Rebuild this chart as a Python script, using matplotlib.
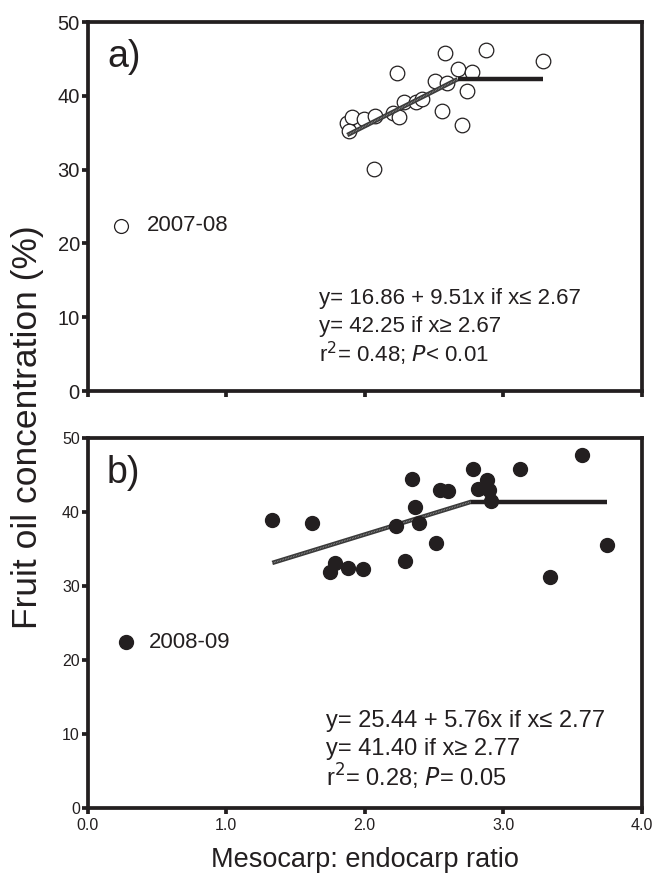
import numpy as np
import matplotlib
matplotlib.use("Agg")
import matplotlib.pyplot as plt

plt.rcParams['font.family'] = ['Liberation Sans', 'DejaVu Sans']

ink = '#231f20'

# 2007-08 season (open circles)
x_a = [1.874, 1.906, 1.889, 1.997, 2.074, 2.067, 2.231, 2.206, 2.247, 2.284, 2.370,
       2.416, 2.507, 2.592, 2.577, 2.560, 2.675, 2.772, 2.736, 2.704, 2.873, 3.289]
y_a = [36.27, 37.17, 35.27, 36.86, 37.26, 30.04, 43.13, 37.71, 37.09, 39.20, 39.16,
       39.53, 42.01, 41.77, 45.76, 37.94, 43.59, 43.27, 40.65, 36.00, 46.17, 44.76]

# 2008-09 season (filled circles)
x_b = [1.333, 1.618, 1.788, 1.748, 1.876, 1.988, 2.227, 2.288, 2.342, 2.364, 2.394, 2.515,
       2.545, 2.597, 2.779, 2.818, 2.885, 2.894, 2.909, 3.121, 3.333, 3.570, 3.748]
y_b = [38.96, 38.47, 33.15, 31.85, 32.43, 32.34, 38.10, 33.38, 44.50, 40.68, 38.50, 35.86,
       43.00, 42.84, 45.77, 43.15, 44.37, 43.00, 41.44, 45.86, 31.17, 47.75, 35.50]

# segmented fits: intercept, slope, breakpoint, plateau
fit_a = (16.86, 9.51, 2.67, 42.25)
fit_b = (25.44, 5.76, 2.77, 41.40)

eq_a = ["y= 16.86 + 9.51x if x\u2264 2.67", "y= 42.25 if x\u2265 2.67",
        "r$^2$= 0.48; $\\it{P}$< 0.01"]
eq_b = ["y= 25.44 + 5.76x if x\u2264 2.77", "y= 41.40 if x\u2265 2.77",
        "r$^2$= 0.28; $\\it{P}$= 0.05"]

yticks = [0, 10, 20, 30, 40, 50]
xticks = [0.0, 1.0, 2.0, 3.0, 4.0]
xticklabels = ['0.0', '1.0', '2.0', '3.0', '4.0']

fig = plt.figure(figsize=(6.57, 8.76), dpi=100)
ax1 = fig.add_axes([87.5 / 657, 1 - 391 / 876, (642 - 87.5) / 657, (391 - 22) / 876])
ax2 = fig.add_axes([87.5 / 657, 1 - 808 / 876, (642 - 87.5) / 657, (808 - 438) / 876])


def style(ax, tick_size):
    ax.set_xlim(0, 4)
    ax.set_ylim(0, 50)
    for s in ax.spines.values():
        s.set_linewidth(2.7)
        s.set_color(ink)
    ax.set_yticks(yticks)
    ax.set_xticks(xticks)
    ax.tick_params(direction='out', length=4, width=2.7, color=ink,
                   labelsize=tick_size, labelcolor=ink, pad=1.5)
    ax.tick_params(axis='x', pad=3.5)


def draw_fit(ax, xs, fit, zorder):
    a, b, brk, plateau = fit
    xs1 = np.array([min(xs), brk])
    ax.plot(xs1, a + b * xs1, color='#3a3a3a', lw=3.2, solid_capstyle='butt', zorder=zorder)
    ax.plot(xs1, a + b * xs1, color='#9a9a9a', lw=1.0, ls=(0, (0.5, 0.7)), zorder=zorder)
    ax.plot([brk, max(xs)], [plateau, plateau], color=ink, lw=3.2,
            solid_capstyle='butt', zorder=zorder)


# panel a
style(ax1, 14.5)
ax1.set_xticklabels([])
ax1.plot(x_a, y_a, 'o', ms=10.5, mfc='white', mec=ink, mew=0.9, zorder=2)
draw_fit(ax1, x_a, fit_a, 3)
ax1.plot([0.24], [22.4], 'o', ms=10, mfc='white', mec=ink, mew=0.9)
ax1.text(0.43, 22.4, '2007-08', fontsize=16, color=ink, va='center')
ax1.text(0.14, 45.3, 'a)', fontsize=27, color=ink, va='center')
for i, line in enumerate(eq_a):
    ax1.text(1.67, 12.6 - i * 3.8, line, fontsize=16, color=ink, va='center')

# panel b
style(ax2, 11.5)
ax2.set_xticklabels(xticklabels)
draw_fit(ax2, x_b, fit_b, 2)
ax2.plot(x_b, y_b, 'o', ms=10, color=ink, zorder=3)
ax2.plot([0.28], [22.4], 'o', ms=10, color=ink)
ax2.text(0.44, 22.4, '2008-09', fontsize=16, color=ink, va='center')
ax2.text(0.14, 45.3, 'b)', fontsize=27, color=ink, va='center')
for i, line in enumerate(eq_b):
    ax2.text(1.72, 11.8 - i * 3.8, line, fontsize=17, color=ink, va='center')

fig.text(0.042, 0.512, 'Fruit oil concentration (%)', rotation=90, fontsize=25.5,
         color=ink, va='center', ha='center')
ax2.set_xlabel('Mesocarp: endocarp ratio', fontsize=19.5, color=ink, labelpad=10)

fig.savefig('out.png', dpi=100)
